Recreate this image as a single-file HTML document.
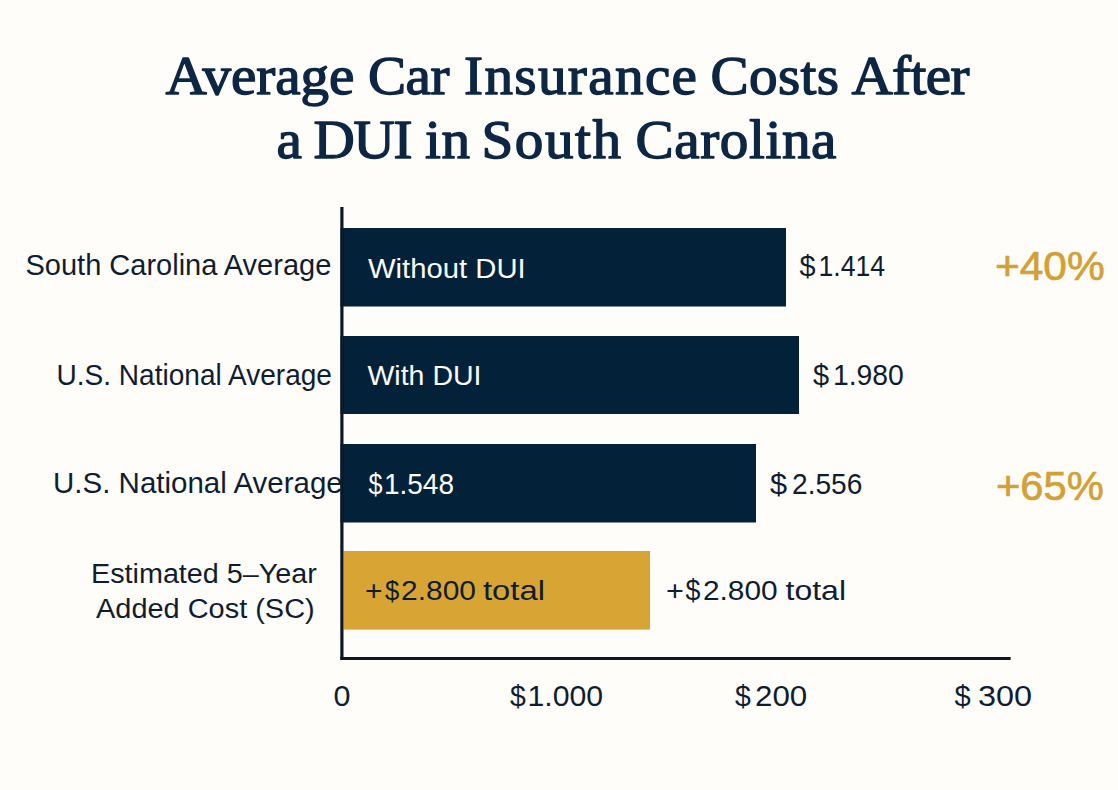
<!DOCTYPE html>
<html><head><meta charset="utf-8"><title>Average Car Insurance Costs After a DUI in South Carolina</title>
<style>html,body{margin:0;padding:0;background:#fefdf9;}body{width:1118px;height:790px;overflow:hidden;}svg{display:block;}</style></head><body>
<svg width="1118" height="790" viewBox="0 0 1118 790">
<rect x="0" y="0" width="1118" height="790" fill="#fefdf9"/>
<rect x="340.50" y="228.00" width="445.50" height="78.50" fill="#03223a"/>
<rect x="340.50" y="336.00" width="458.50" height="78.00" fill="#03223a"/>
<rect x="340.50" y="444.00" width="415.50" height="78.50" fill="#03223a"/>
<rect x="343.50" y="551.00" width="306.50" height="78.60" fill="#d8a535"/>
<rect x="340.30" y="207.00" width="3.20" height="453.00" fill="#0c1727"/>
<rect x="340.30" y="657.00" width="670.30" height="3.00" fill="#0c1727"/>
<text transform="scale(1.0300,1.0000)" x="160.68" y="94.50" font-family="'Liberation Serif', 'Times New Roman', serif" font-size="55.50" fill="#0c2643" stroke="#0c2643" stroke-width="1.40" stroke-linejoin="round" textLength="183.50" lengthAdjust="spacing">Average</text>
<text transform="scale(1.0300,1.0000)" x="357.28" y="94.50" font-family="'Liberation Serif', 'Times New Roman', serif" font-size="55.50" fill="#0c2643" stroke="#0c2643" stroke-width="1.40" stroke-linejoin="round" textLength="79.13" lengthAdjust="spacing">Car</text>
<text transform="scale(1.0300,1.0000)" x="450.49" y="94.50" font-family="'Liberation Serif', 'Times New Roman', serif" font-size="55.50" fill="#0c2643" stroke="#0c2643" stroke-width="1.40" stroke-linejoin="round" textLength="226.21" lengthAdjust="spacing">Insurance</text>
<text transform="scale(1.0300,1.0000)" x="689.81" y="94.50" font-family="'Liberation Serif', 'Times New Roman', serif" font-size="55.50" fill="#0c2643" stroke="#0c2643" stroke-width="1.40" stroke-linejoin="round" textLength="124.76" lengthAdjust="spacing">Costs</text>
<text transform="scale(1.0300,1.0000)" x="826.70" y="94.50" font-family="'Liberation Serif', 'Times New Roman', serif" font-size="55.50" fill="#0c2643" stroke="#0c2643" stroke-width="1.40" stroke-linejoin="round" textLength="114.56" lengthAdjust="spacing">After</text>
<text transform="scale(1.0300,1.0000)" x="268.45" y="158.30" font-family="'Liberation Serif', 'Times New Roman', serif" font-size="55.50" fill="#0c2643" stroke="#0c2643" stroke-width="1.40" stroke-linejoin="round">a</text>
<text transform="scale(1.0300,1.0000)" x="304.37" y="158.30" font-family="'Liberation Serif', 'Times New Roman', serif" font-size="55.50" fill="#0c2643" stroke="#0c2643" stroke-width="1.40" stroke-linejoin="round" textLength="96.12" lengthAdjust="spacing">DUI</text>
<text transform="scale(1.0300,1.0000)" x="412.62" y="158.30" font-family="'Liberation Serif', 'Times New Roman', serif" font-size="55.50" fill="#0c2643" stroke="#0c2643" stroke-width="1.40" stroke-linejoin="round" textLength="43.69" lengthAdjust="spacing">in</text>
<text transform="scale(1.0300,1.0000)" x="467.48" y="158.30" font-family="'Liberation Serif', 'Times New Roman', serif" font-size="55.50" fill="#0c2643" stroke="#0c2643" stroke-width="1.40" stroke-linejoin="round" textLength="135.44" lengthAdjust="spacing">South</text>
<text transform="scale(1.0300,1.0000)" x="616.99" y="158.30" font-family="'Liberation Serif', 'Times New Roman', serif" font-size="55.50" fill="#0c2643" stroke="#0c2643" stroke-width="1.40" stroke-linejoin="round" textLength="195.15" lengthAdjust="spacing">Carolina</text>
<text x="25.50" y="275.30" font-family="'Liberation Sans', Arial, sans-serif" font-size="29.00" fill="#101d30">South Carolina Average</text>
<text transform="scale(0.9680,1.0000)" x="58.37" y="385.00" font-family="'Liberation Sans', Arial, sans-serif" font-size="29.00" fill="#101d30">U.S. National Average</text>
<text transform="scale(1.0178,1.0000)" x="52.07" y="492.80" font-family="'Liberation Sans', Arial, sans-serif" font-size="29.00" fill="#101d30">U.S. National Average</text>
<text transform="scale(1.0276,1.0000)" x="88.55" y="582.90" font-family="'Liberation Sans', Arial, sans-serif" font-size="28.00" fill="#101d30">Estimated 5–Year</text>
<text transform="scale(1.0334,1.0000)" x="92.90" y="618.30" font-family="'Liberation Sans', Arial, sans-serif" font-size="28.00" fill="#101d30">Added Cost (SC)</text>
<text transform="scale(1.0267,1.0000)" x="358.43" y="277.80" font-family="'Liberation Sans', Arial, sans-serif" font-size="28.50" fill="#fbfbfb">Without DUI</text>
<text x="367.47" y="385.30" font-family="'Liberation Sans', Arial, sans-serif" font-size="28.50" fill="#fbfbfb">With DUI</text>
<text transform="scale(0.8546,1.0000)" x="431.18" y="493.80" font-family="'Liberation Sans', Arial, sans-serif" font-size="29.50" fill="#fbfbfb">$</text>
<text transform="scale(0.9486,1.0000)" x="404.79" y="493.80" font-family="'Liberation Sans', Arial, sans-serif" font-size="29.50" fill="#fbfbfb">1.548</text>
<text transform="scale(1.0885,1.0000)" x="335.32" y="600.40" font-family="'Liberation Sans', Arial, sans-serif" font-size="27.50" fill="#101d30">+</text>
<text transform="scale(0.9359,1.0000)" x="411.37" y="600.40" font-family="'Liberation Sans', Arial, sans-serif" font-size="27.50" fill="#101d30">$</text>
<text transform="scale(1.0899,1.0000)" x="367.93" y="600.40" font-family="'Liberation Sans', Arial, sans-serif" font-size="27.50" fill="#101d30">2.800</text>
<text transform="scale(1.1921,1.0000)" x="405.16" y="600.40" font-family="'Liberation Sans', Arial, sans-serif" font-size="27.50" fill="#101d30">total</text>
<text transform="scale(0.9765,1.0000)" x="818.76" y="275.70" font-family="'Liberation Sans', Arial, sans-serif" font-size="29.50" fill="#101d30">$</text>
<text transform="scale(0.9016,1.0000)" x="907.80" y="275.70" font-family="'Liberation Sans', Arial, sans-serif" font-size="29.50" fill="#101d30">1.414</text>
<text transform="scale(0.9823,1.0000)" x="827.64" y="384.70" font-family="'Liberation Sans', Arial, sans-serif" font-size="29.50" fill="#101d30">$</text>
<text transform="scale(0.9606,1.0000)" x="867.14" y="384.70" font-family="'Liberation Sans', Arial, sans-serif" font-size="29.50" fill="#101d30">1.980</text>
<text transform="scale(1.0416,1.0000)" x="739.27" y="493.70" font-family="'Liberation Sans', Arial, sans-serif" font-size="29.50" fill="#101d30">$</text>
<text transform="scale(0.9523,1.0000)" x="831.70" y="493.70" font-family="'Liberation Sans', Arial, sans-serif" font-size="29.50" fill="#101d30">2.556</text>
<text transform="scale(1.1096,1.0000)" x="600.23" y="600.00" font-family="'Liberation Sans', Arial, sans-serif" font-size="27.50" fill="#101d30">+</text>
<text transform="scale(0.9085,1.0000)" x="754.56" y="600.00" font-family="'Liberation Sans', Arial, sans-serif" font-size="29.50" fill="#101d30">$</text>
<text transform="scale(1.0850,1.0000)" x="647.92" y="600.00" font-family="'Liberation Sans', Arial, sans-serif" font-size="27.50" fill="#101d30">2.800</text>
<text transform="scale(1.1642,1.0000)" x="674.74" y="600.00" font-family="'Liberation Sans', Arial, sans-serif" font-size="27.50" fill="#101d30">total</text>
<text transform="scale(1.0231,1.0000)" x="972.53" y="280.10" font-family="'Liberation Sans', Arial, sans-serif" font-size="41.50" fill="#d4a033" stroke="#d4a033" stroke-width="0.70" stroke-linejoin="round">+40%</text>
<text transform="scale(1.0039,1.0000)" x="992.15" y="500.10" font-family="'Liberation Sans', Arial, sans-serif" font-size="41.50" fill="#d4a033" stroke="#d4a033" stroke-width="0.70" stroke-linejoin="round">+65%</text>
<text transform="scale(1.0349,1.0000)" x="322.25" y="705.90" font-family="'Liberation Sans', Arial, sans-serif" font-size="29.50" fill="#101d30">0</text>
<text transform="scale(0.9639,1.0000)" x="529.08" y="705.60" font-family="'Liberation Sans', Arial, sans-serif" font-size="29.50" fill="#101d30">$</text>
<text transform="scale(1.0258,1.0000)" x="514.23" y="705.60" font-family="'Liberation Sans', Arial, sans-serif" font-size="29.50" fill="#101d30">1.000</text>
<text transform="scale(0.9659,1.0000)" x="760.93" y="705.90" font-family="'Liberation Sans', Arial, sans-serif" font-size="29.50" fill="#101d30">$</text>
<text transform="scale(1.0611,1.0000)" x="711.52" y="705.90" font-family="'Liberation Sans', Arial, sans-serif" font-size="29.50" fill="#101d30">200</text>
<text transform="scale(0.9883,1.0000)" x="965.85" y="705.90" font-family="'Liberation Sans', Arial, sans-serif" font-size="29.50" fill="#101d30">$</text>
<text transform="scale(1.0983,1.0000)" x="890.46" y="705.90" font-family="'Liberation Sans', Arial, sans-serif" font-size="29.50" fill="#101d30">300</text>
</svg>
</body></html>
